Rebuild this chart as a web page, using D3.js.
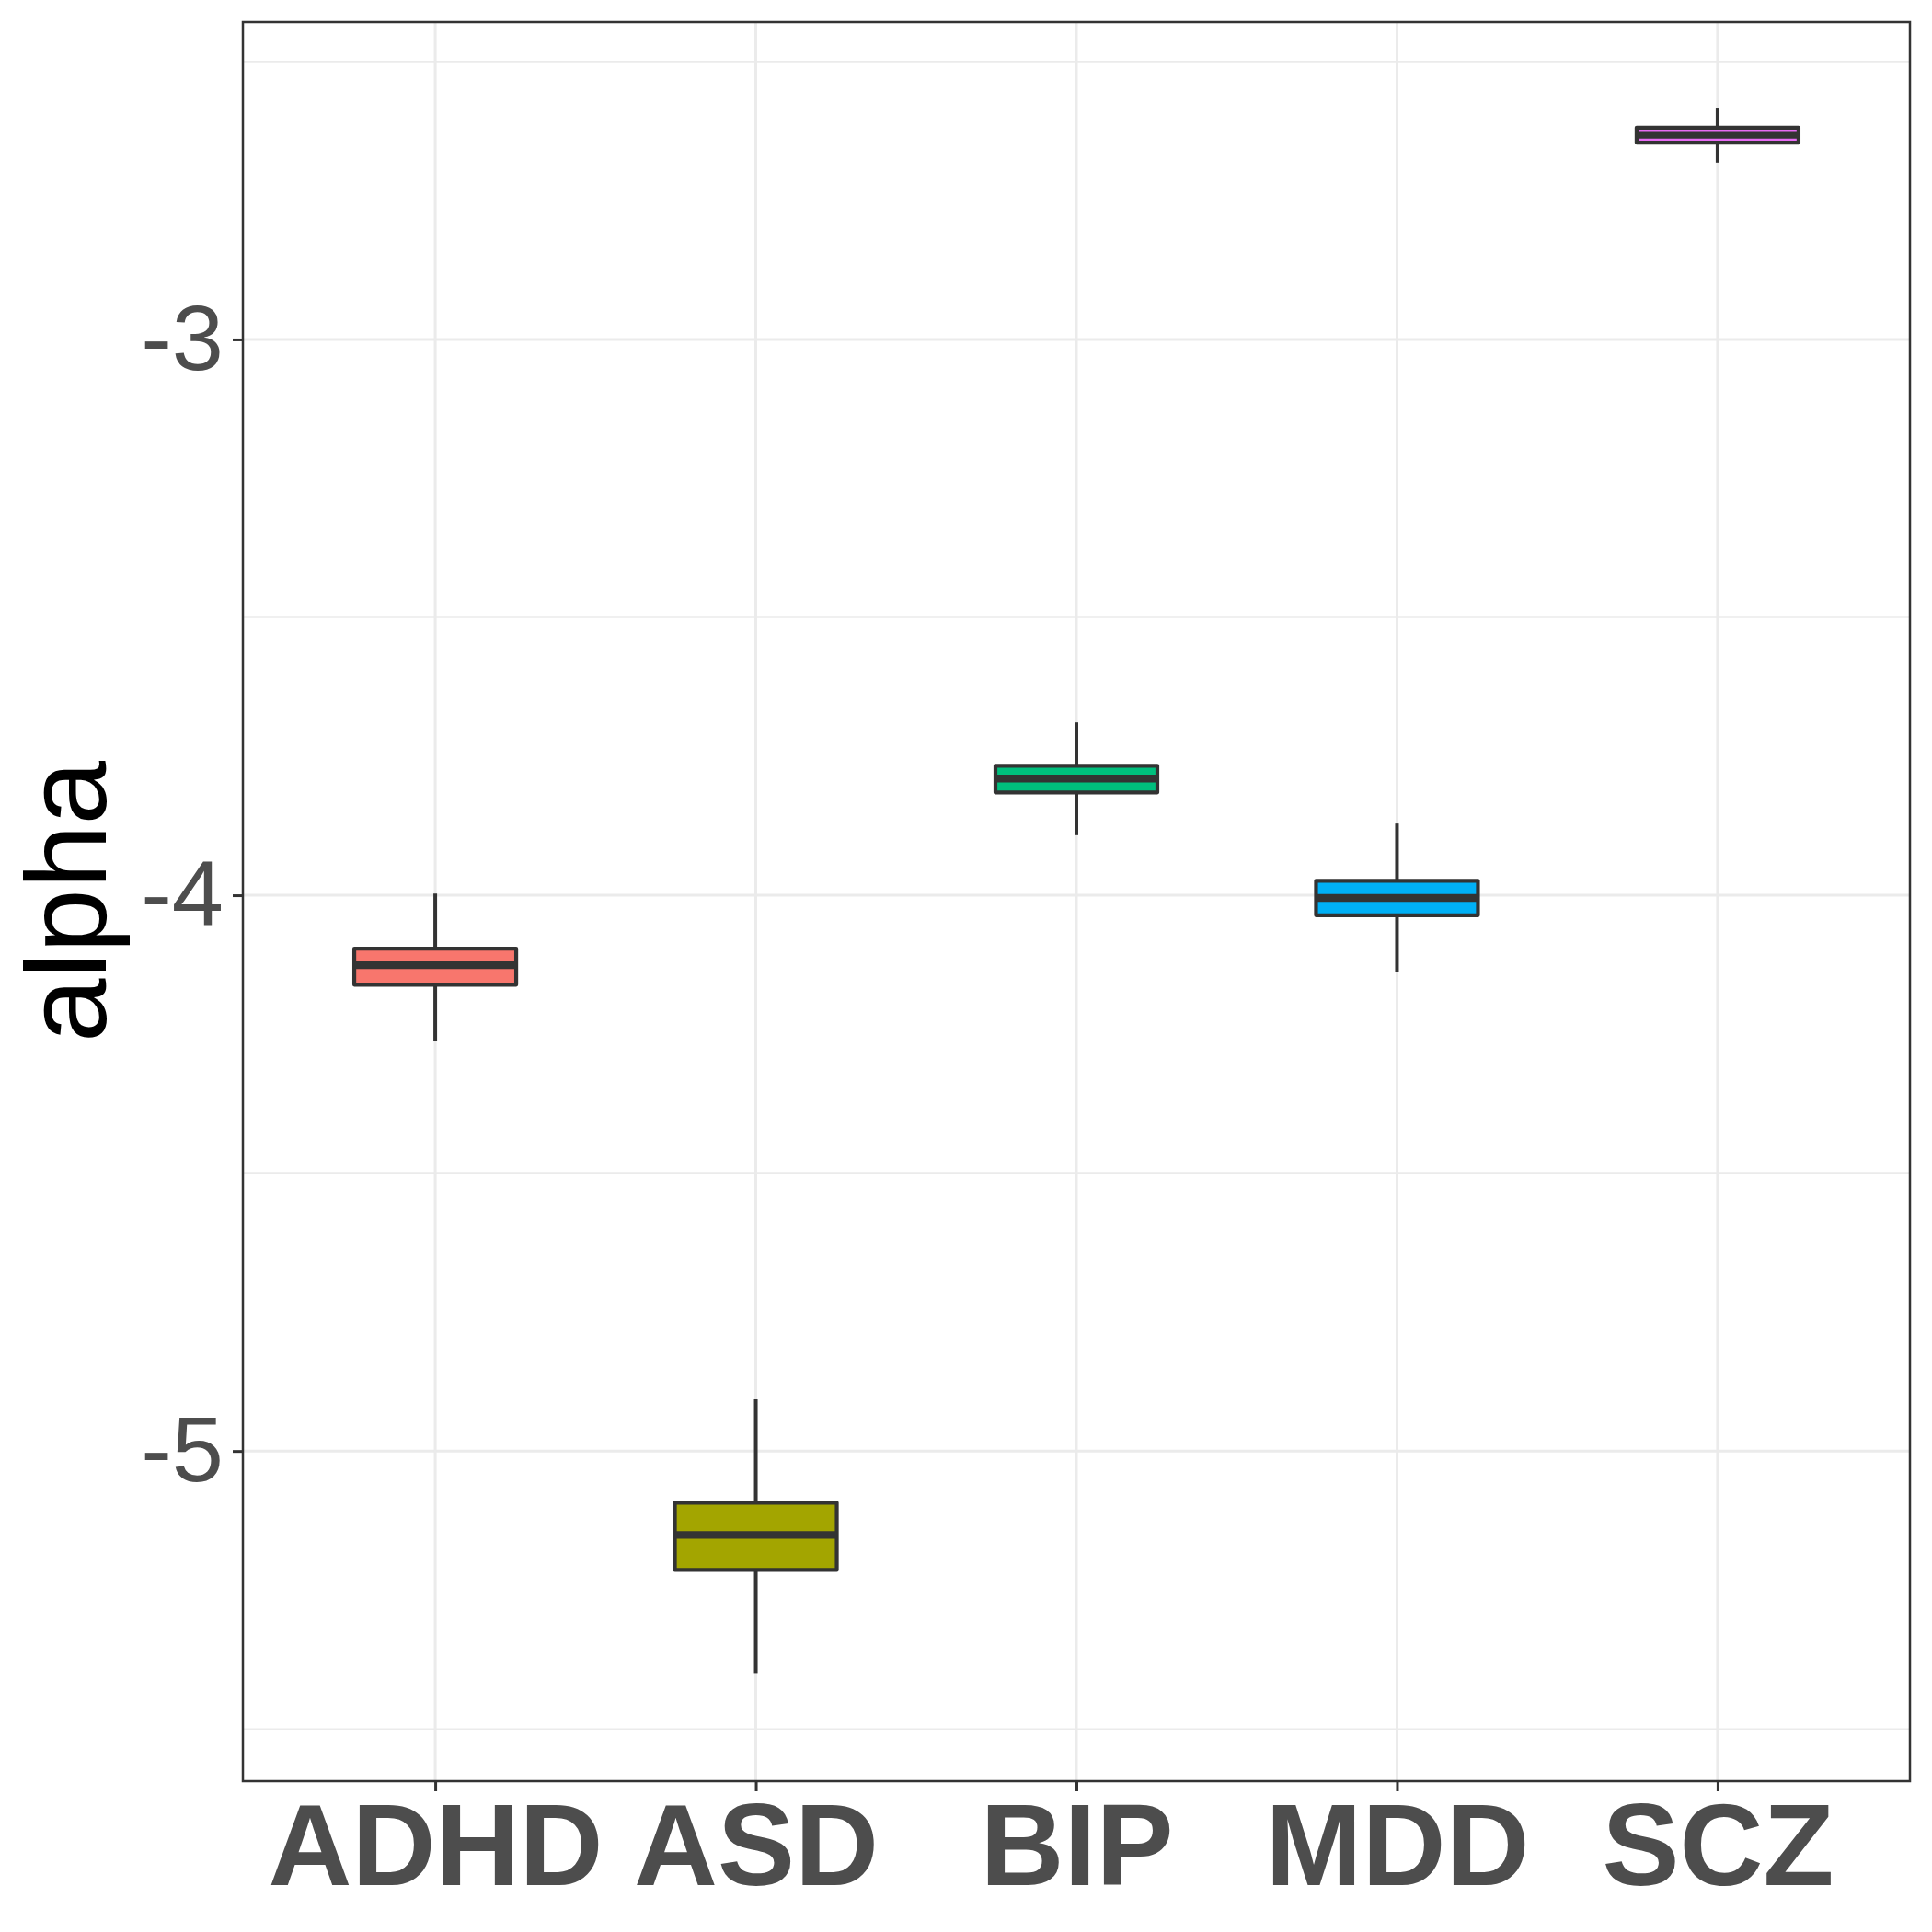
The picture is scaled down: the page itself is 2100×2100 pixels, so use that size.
<!DOCTYPE html>
<html>
<head>
<meta charset="utf-8">
<script src="https://cdn.jsdelivr.net/npm/d3@7"></script>
<style>
  body { margin: 0; background: #fff; }
</style>
</head>
<body>
<div class="container"></div>
<script>
const groups = ['ADHD', 'ASD', 'BIP', 'MDD', 'SCZ']
const colors = ['#F8766D', '#A3A500', '#00BF7D', '#00B0F6', '#E76BF3']
const lower = [-4.262, -5.401, -3.892, -4.139, -2.682]
const q1 = [-4.161, -5.214, -3.815, -4.036, -2.646]
const median = [-4.126, -5.151, -3.790, -4.005, -2.632]
const q3 = [-4.096, -5.093, -3.767, -3.974, -2.619]
const upper = [-3.997, -4.907, -3.689, -3.871, -2.583]
const yTicks = [-5, -4, -3]
const yMinor = [-5.5, -4.5, -3.5, -2.5]

const w = 2100
const h = 2100
const padLeft = 264
const padRight = 2076
const padTop = 24
const padBottom = 1936

const svg = d3.select('.container')
  .append('svg')
  .attr('width', w)
  .attr('height', h)

const xScale = d3.scalePoint()
  .domain(groups)
  .range([padLeft, padRight])
  .padding(0.6)

const yScale = d3.scaleLinear()
  .domain([-5.594, -2.429])
  .range([padBottom, padTop])

const boxW = 176

// grid
svg.append('g')
  .selectAll('line')
  .data(yMinor)
  .join('line')
  .attr('x1', padLeft).attr('x2', padRight)
  .attr('y1', d => yScale(d)).attr('y2', d => yScale(d))
  .attr('stroke', '#EBEBEB')
  .attr('stroke-width', 1.6)

svg.append('g')
  .selectAll('line')
  .data(yTicks)
  .join('line')
  .attr('x1', padLeft).attr('x2', padRight)
  .attr('y1', d => yScale(d)).attr('y2', d => yScale(d))
  .attr('stroke', '#EBEBEB')
  .attr('stroke-width', 3)

svg.append('g')
  .selectAll('line')
  .data(groups)
  .join('line')
  .attr('x1', d => xScale(d)).attr('x2', d => xScale(d))
  .attr('y1', padTop).attr('y2', padBottom)
  .attr('stroke', '#EBEBEB')
  .attr('stroke-width', 3)

// boxes
const boxes = svg.append('g')
  .selectAll('g')
  .data(groups)
  .join('g')

boxes.append('line')
  .attr('x1', d => xScale(d)).attr('x2', d => xScale(d))
  .attr('y1', (d, i) => yScale(upper[i]))
  .attr('y2', (d, i) => yScale(q3[i]))
  .attr('stroke', '#333333')
  .attr('stroke-width', 4)

boxes.append('line')
  .attr('x1', d => xScale(d)).attr('x2', d => xScale(d))
  .attr('y1', (d, i) => yScale(q1[i]))
  .attr('y2', (d, i) => yScale(lower[i]))
  .attr('stroke', '#333333')
  .attr('stroke-width', 4)

boxes.append('rect')
  .attr('x', d => xScale(d) - boxW / 2)
  .attr('width', boxW)
  .attr('y', (d, i) => yScale(q3[i]))
  .attr('height', (d, i) => yScale(q1[i]) - yScale(q3[i]))
  .attr('fill', (d, i) => colors[i])
  .attr('stroke', '#333333')
  .attr('stroke-width', 4.2)
  .attr('stroke-linejoin', 'round')

boxes.append('line')
  .attr('x1', d => xScale(d) - boxW / 2).attr('x2', d => xScale(d) + boxW / 2)
  .attr('y1', (d, i) => yScale(median[i]))
  .attr('y2', (d, i) => yScale(median[i]))
  .attr('stroke', '#333333')
  .attr('stroke-width', 8.4)

// panel border
svg.append('rect')
  .attr('x', padLeft).attr('y', padTop)
  .attr('width', padRight - padLeft).attr('height', padBottom - padTop)
  .attr('fill', 'none')
  .attr('stroke', '#333333')
  .attr('stroke-width', 2.5)

// axes
const yAxis = d3.axisLeft(yScale)
  .tickValues(yTicks)
  .tickFormat(d => String(d))
  .tickSize(11)
  .tickPadding(10)

const yG = svg.append('g')
  .attr('transform', `translate(${padLeft}, 0)`)
  .call(yAxis)
yG.select('.domain').remove()
yG.selectAll('.tick line').attr('stroke', '#333333').attr('stroke-width', 3)
yG.selectAll('.tick text')
  .attr('fill', '#4D4D4D')
  .attr('font-family', 'Liberation Sans, Arial, sans-serif')
  .attr('font-size', 101)

const xAxis = d3.axisBottom(xScale)
  .tickSize(11)
  .tickPadding(10)

const xG = svg.append('g')
  .attr('transform', `translate(0, ${padBottom})`)
  .call(xAxis)
xG.select('.domain').remove()
xG.selectAll('.tick line').attr('stroke', '#333333').attr('stroke-width', 3)
xG.selectAll('.tick text')
  .attr('fill', '#4D4D4D')
  .attr('font-family', 'Liberation Sans, Arial, sans-serif')
  .attr('font-weight', 'bold')
  .attr('font-size', 126)
  .attr('dy', null)
  .attr('y', 113)

svg.append('text')
  .text('alpha')
  .attr('transform', `translate(115, ${(padTop + padBottom) / 2}) rotate(-90)`)
  .attr('text-anchor', 'middle')
  .attr('font-family', 'Liberation Sans, Arial, sans-serif')
  .attr('font-size', 125)
  .attr('fill', '#000000')
</script>
</body>
</html>
